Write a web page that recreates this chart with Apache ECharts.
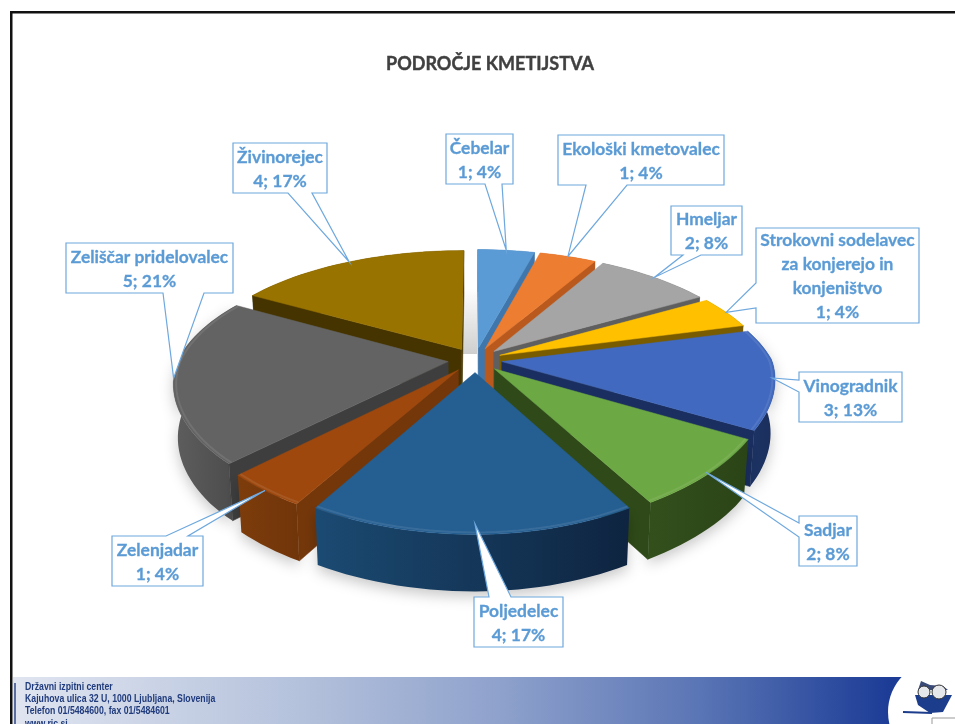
<!DOCTYPE html>
<html lang="sl" style="height: 100%">
<head>
    <meta charset="utf-8">
    <title>Področje kmetijstva</title>
    <style type="text/css">
        body { margin: 0; background: #fff; }
        #container { width: 955px; height: 724px; }
    </style>
    <script src="https://cdn.jsdelivr.net/npm/echarts@6/dist/echarts.min.js"></script>
</head>
<body>
<div id="container"></div>
<script type="text/javascript">
    // data, clockwise from 12 o'clock
    var categories = ['Čebelar', 'Ekološki kmetovalec', 'Hmeljar', 'Strokovni sodelavec\nza konjerejo in\nkonjeništvo',
        'Vinogradnik', 'Sadjar', 'Poljedelec', 'Zelenjadar', 'Zeliščar pridelovalec', 'Živinorejec'];
    var values = [1, 1, 2, 1, 3, 2, 4, 1, 5, 4];
    var footerLines = ['Državni izpitni center', 'Kajuhova ulica 32 U, 1000 Ljubljana, Slovenija',
        'Telefon 01/5484600, fax 01/5484601', 'www.ric.si'];

    // slice colours: top, radial side, curved side left, curved side right
    var topColors = ['#5b9bd5', '#ed7d31', '#a5a5a5', '#ffc000', '#4069bf', '#6ca843', '#255e91', '#9e480e', '#636363', '#997300'];
    var sideColors = ['#3f76ab', '#b9591d', '#5f5f5f', '#7a5c00', '#1a2f60', '#2f4a18', '#163a5c', '#74370a', '#3e3e3e', '#453400'];
    var outerLeft = ['#3f76ab', '#b9591d', '#5f5f5f', '#7a5c00', '#1d3566', '#33501c', '#1b4a72', '#7d3c0b', '#5e5e5e', '#453400'];
    var outerRight = ['#3f76ab', '#b9591d', '#5f5f5f', '#7a5c00', '#1a2e5c', '#2b4417', '#0e2440', '#70350a', '#4a4a4a', '#453400'];

    // callout boxes: x0, y0, x1, y1, side of the pointer, pointer base a, b, how far out the tip sits
    var calloutBoxes = [
        [446, 134, 513, 184, 'bottom', 485, 502, 1],
        [558, 135, 724, 185, 'bottom', 586, 627, 1],
        [671, 206, 742, 255, 'bottom', 683, 701, 1],
        [756, 228, 919, 323, 'left', 283, 308, 1],
        [799, 372, 902, 422, 'left', 380, 392, 0.99],
        [799, 516, 857, 566, 'left', 523, 537, 0.99],
        [474, 597, 563, 647, 'top', 489, 511, 0.948],
        [112, 536, 203, 586, 'top', 166, 188, 1],
        [66, 243, 233, 293, 'bottom', 163, 204, 1],
        [233, 143, 327, 193, 'bottom', 288, 312, 1]
    ];

    // camera of the tilted pie
    var CX = 475, CY = 360, F = 270, G = 123, KY = 0.204, DEPTH = 52, EXPLODE = 0.1;

    var total = values.reduce(function (a, b) { return a + b; }, 0);
    var slices = [];
    var acc = 0;
    values.forEach(function (v, i) {
        var a0 = acc / total * 360;
        acc += v;
        var a1 = acc / total * 360;
        var mid = rad((a0 + a1) / 2);
        slices.push({
            index: i, a0: a0, a1: a1, mid: mid,
            ex: EXPLODE * Math.sin(mid), ey: EXPLODE * Math.cos(mid)
        });
    });

    function rad(d) {
        return d * Math.PI / 180;
    }

    // world point on the pie plane -> screen, low = true for the bottom face
    function project(u, v, low) {
        var kx = v < 0 ? (u > 0 ? 0.13 : 0.16) : (u > 0 ? 0.22 : 0.19);
        var x = F * u / (1 + kx * v);
        var y = -G * v / (1 + KY * v);
        if (low) {
            var d = v < 0 ? Math.min(57, DEPTH - 8 * v) : DEPTH / (1 + KY * v);
            return [CX + x * 0.985, CY + y + d];
        }
        return [CX + x, CY + y];
    }

    function rimPoint(s, deg, r, low) {
        return project(s.ex + r * Math.sin(rad(deg)), s.ey + r * Math.cos(rad(deg)), low);
    }

    function arc(s, low, r) {
        var pts = [];
        var steps = Math.max(6, Math.round((s.a1 - s.a0) / 2));
        for (var i = 0; i <= steps; i++) {
            pts.push(rimPoint(s, s.a0 + (s.a1 - s.a0) * i / steps, r, low));
        }
        return pts;
    }

    function radialFace(s, deg, fill) {
        var a = project(s.ex, s.ey, false);
        var r = rimPoint(s, deg, 1, false);
        var m = rimPoint(s, (s.a0 + s.a1) / 2, 1, false);
        // outward normal of the edge, drawn only when it looks down at the viewer
        var nx = -(r[1] - a[1]), ny = r[0] - a[0];
        if (nx * (m[0] - a[0]) + ny * (m[1] - a[1]) > 0) {
            ny = -ny;
        }
        if (ny <= 0) {
            return null;
        }
        return {
            type: 'polygon',
            shape: {points: [a, r, rimPoint(s, deg, 1, true), project(s.ex, s.ey, true)]},
            style: {fill: fill, stroke: fill, lineWidth: 0.5}
        };
    }

    function renderSlice(params, api) {
        var s = slices[api.value(0)];
        var i = s.index;
        var top = arc(s, false, 1);
        var low = arc(s, true, 1);
        var front = Math.cos(s.mid) < 0;
        var children = [];
        children.push({
            type: 'polygon',
            shape: {points: top.concat(low.slice().reverse())},
            style: {
                fill: {
                    type: 'linear', x: 0, y: 0, x2: 1, y2: 0,
                    colorStops: [{offset: 0, color: outerLeft[i]}, {offset: 1, color: outerRight[i]}]
                },
                shadowBlur: front ? 14 : 0,
                shadowColor: 'rgba(0,0,0,0.22)',
                shadowOffsetY: 5
            }
        });
        [s.a0, s.a1].forEach(function (deg) {
            var face = radialFace(s, deg, sideColors[i]);
            if (face) {
                children.push(face);
            }
        });
        children.push({
            type: 'polygon',
            shape: {points: [project(s.ex, s.ey, false)].concat(top)},
            style: {fill: topColors[i], stroke: topColors[i], lineWidth: 0.5}
        });
        if (front) {
            children.push({
                type: 'polyline',
                shape: {points: arc(s, false, 0.99)},
                style: {fill: 'none', stroke: 'rgba(255,255,255,0.09)', lineWidth: 2}
            });
        }
        return {type: 'group', children: children};
    }

    function calloutText(i) {
        var pct = Math.round(values[i] / total * 100);
        return categories[i] + '\n' + values[i] + '; ' + pct + '%';
    }

    function renderCallout(params, api) {
        var i = api.value(0);
        var b = calloutBoxes[i];
        var s = slices[i];
        var tip = rimPoint(s, (s.a0 + s.a1) / 2, b[7], false);
        var pts = [[b[0], b[1]]];
        if (b[4] === 'top') {
            pts.push([b[5], b[1]], tip, [b[6], b[1]]);
        }
        pts.push([b[2], b[1]], [b[2], b[3]]);
        if (b[4] === 'bottom') {
            pts.push([b[6], b[3]], tip, [b[5], b[3]]);
        }
        pts.push([b[0], b[3]]);
        if (b[4] === 'left') {
            pts.push([b[0], b[6]], tip, [b[0], b[5]]);
        }
        return {
            type: 'group',
            children: [{
                type: 'polygon',
                shape: {points: pts},
                style: {fill: '#fff', stroke: '#6ea8de', lineWidth: 1.2}
            }, {
                type: 'text',
                style: {
                    x: (b[0] + b[2]) / 2,
                    y: (b[1] + b[3]) / 2 + 1,
                    text: calloutText(i),
                    align: 'center',
                    verticalAlign: 'middle',
                    fill: '#5b9bd5',
                    stroke: '#5b9bd5',
                    lineWidth: 0.3,
                    font: 'bold 17.4px Lato',
                    lineHeight: 24
                }
            }]
        };
    }

    // paint the far slices first
    var paintOrder = slices.slice().sort(function (a, b) {
        return Math.cos(b.mid) - Math.cos(a.mid);
    }).map(function (s) { return [s.index]; });

    var footerText = footerLines.map(function (line, i) {
        return {
            type: 'text',
            x: 25,
            y: 687 + i * 12.3,
            scaleX: 0.83,
            style: {
                x: 0, y: 0, text: line, fill: '#203b7c',
                font: 'bold 10.5px "Liberation Sans"', verticalAlign: 'middle'
            }
        };
    });

    var option = {
        animation: false,
        title: {
            text: 'PODROČJE KMETIJSTVA',
            left: 485,
            top: 50,
            textAlign: 'center',
            textStyle: {
                color: '#404040', fontFamily: 'Lato', fontWeight: 'bold', fontSize: 18,
                textBorderColor: '#404040', textBorderWidth: 0.4
            }
        },
        graphic: {
            elements: [
                // slide frame
                {type: 'rect', shape: {x: 10, y: 11, width: 945, height: 2.5}, style: {fill: '#111'}},
                {type: 'rect', shape: {x: 10, y: 11, width: 2.5, height: 713}, style: {fill: '#111'}},
                // footer band
                {
                    type: 'rect', shape: {x: 13, y: 677, width: 942, height: 47},
                    style: {
                        fill: {
                            type: 'linear', x: 0, y: 0, x2: 1, y2: 0,
                            colorStops: [
                                {offset: 0, color: '#e0e5f0'},
                                {offset: 0.3, color: '#b5c2dc'},
                                {offset: 0.52, color: '#8ea1cc'},
                                {offset: 0.73, color: '#5a75b5'},
                                {offset: 0.93, color: '#1c3c96'},
                                {offset: 1, color: '#1c3c96'}
                            ]
                        }
                    }
                },
                {type: 'rect', shape: {x: 14, y: 683, width: 2, height: 41}, style: {fill: '#5a6ea0'}},
                {type: 'circle', shape: {cx: 940, cy: 712, r: 52}, style: {fill: '#fff'}},
                {type: 'rect', shape: {x: 940, y: 677, width: 15, height: 47}, style: {fill: '#fff'}},
                {type: 'rect', shape: {x: 930, y: 650, width: 25, height: 27}, style: {fill: '#fff'}},
                // owl
                {type: 'polygon', shape: {points: [[915, 695], [952, 695], [943, 712], [930, 713], [918, 705]]}, style: {fill: '#1c3c8c'}},
                {type: 'polygon', shape: {points: [[918, 690], [921, 681], [930, 685], [943, 686], [948, 690]]}, style: {fill: '#3a4a78'}},
                {type: 'circle', shape: {cx: 924, cy: 692, r: 6}, style: {fill: '#e6e7ea', stroke: '#333', lineWidth: 1}},
                {type: 'circle', shape: {cx: 939, cy: 692, r: 7}, style: {fill: '#e6e7ea', stroke: '#333', lineWidth: 1}},
                {type: 'line', shape: {x1: 903, y1: 712, x2: 932, y2: 713}, style: {stroke: '#1c3c8c', lineWidth: 2}},
                {type: 'rect', shape: {x: 932, y: 718, width: 24, height: 8}, style: {fill: '#fff', stroke: '#999', lineWidth: 1}},
                // soft shade in the gap behind the slices
                {
                    type: 'rect', shape: {x: 461, y: 288, width: 16, height: 66},
                    style: {
                        fill: {
                            type: 'linear', x: 0, y: 0, x2: 0, y2: 1,
                            colorStops: [{offset: 0, color: 'rgba(190,190,190,0)'}, {offset: 1, color: 'rgba(190,190,190,0.75)'}]
                        }
                    }
                }
            ].concat(footerText)
        },
        series: [{
            type: 'custom',
            coordinateSystem: 'none',
            silent: true,
            z: 3,
            data: paintOrder,
            renderItem: renderSlice
        }, {
            type: 'custom',
            coordinateSystem: 'none',
            silent: true,
            z: 4,
            data: values.map(function (v, i) { return [i]; }),
            renderItem: renderCallout
        }]
    };

    var myChart = echarts.init(document.getElementById('container'), null, {renderer: 'canvas'});
    myChart.setOption(option);
</script>
</body>
</html>
